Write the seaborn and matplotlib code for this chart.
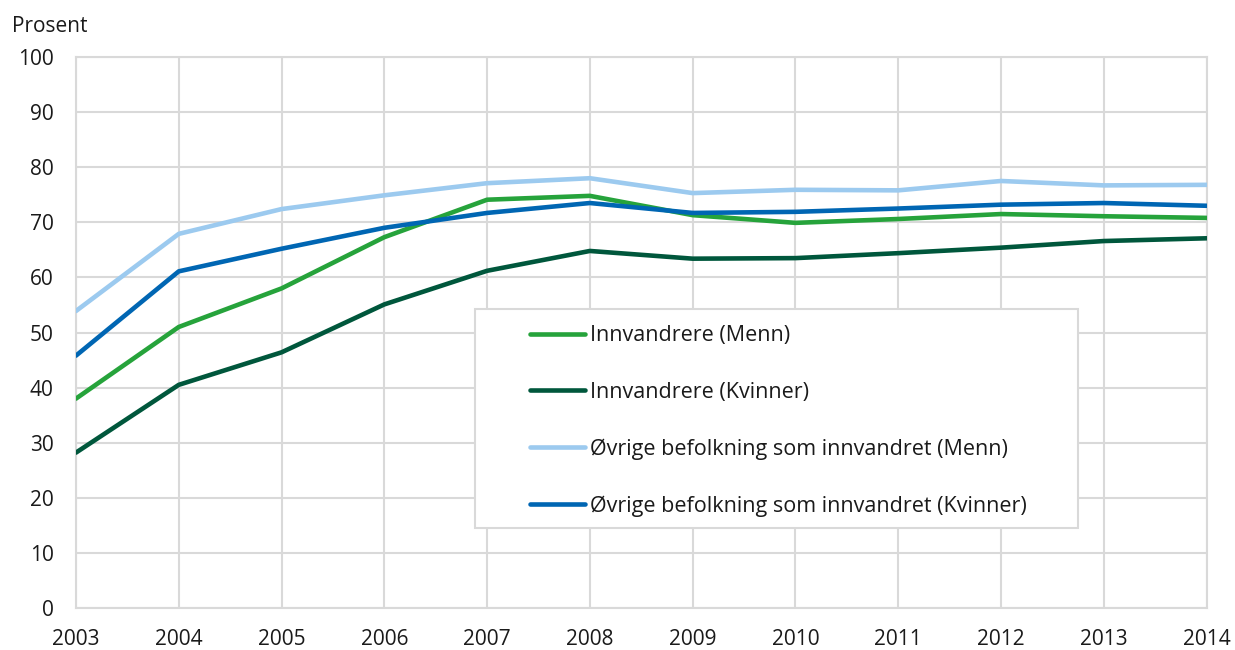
import matplotlib
matplotlib.use("Agg")
import matplotlib.pyplot as plt
from matplotlib.patches import Rectangle
import pandas as pd
import seaborn as sns

years = list(range(2003, 2015))
innv_menn = [38.0, 51.0, 58.0, 67.3, 74.1, 74.8, 71.3, 69.9, 70.6, 71.5, 71.1, 70.8]
innv_kvinner = [28.2, 40.5, 46.4, 55.1, 61.2, 64.8, 63.4, 63.5, 64.4, 65.4, 66.6, 67.1]
ovrige_menn = [53.9, 67.9, 72.4, 74.9, 77.1, 78.0, 75.3, 75.9, 75.8, 77.5, 76.7, 76.8]
ovrige_kvinner = [45.8, 61.1, 65.2, 69.0, 71.7, 73.5, 71.7, 71.9, 72.5, 73.2, 73.5, 73.0]

series_names = ["Innvandrere (Menn)", "Innvandrere (Kvinner)",
                "Øvrige befolkning som innvandret (Menn)",
                "Øvrige befolkning som innvandret (Kvinner)"]
colors = ["#26a33b", "#00573c", "#9ccaef", "#0066b3"]

frames = []
for name, vals in zip(series_names, [innv_menn, innv_kvinner, ovrige_menn, ovrige_kvinner]):
    frames.append(pd.DataFrame({"year": years, "value": vals, "serie": name}))
df = pd.concat(frames, ignore_index=True)

sns.set_theme(style="white")
plt.rcParams["font.family"] = ["Open Sans", "DejaVu Sans"]

fig = plt.figure(figsize=(12.35, 6.5), dpi=100)
ax = fig.add_axes([0.0615, 0.0646, 0.9155, 0.8477])

grid_col = "#d9d9d9"
sns.lineplot(data=df, x="year", y="value", hue="serie", hue_order=series_names,
             palette=colors, linewidth=3.3, ax=ax, legend=False, zorder=3)

ax.set_xlim(2003, 2014)
ax.set_ylim(0, 100)
ax.set_xticks(years)
ax.set_yticks(range(0, 101, 10))
ax.grid(True, color=grid_col, linewidth=1.5, zorder=0)
ax.set_axisbelow(True)
for s in ax.spines.values():
    s.set_color(grid_col)
    s.set_linewidth(1.5)
ax.tick_params(axis="both", length=0, labelsize=15, colors="#1a1a1a")
ax.tick_params(axis="x", pad=15)
ax.tick_params(axis="y", pad=16)
ax.set_xlabel("")
ax.set_ylabel("")

fig.text(12 / 1235, 1 - 27 / 650, "Prosent", ha="left", va="center",
         fontsize=15, color="#1a1a1a")

# legend frame and entries
ax.add_patch(Rectangle((0.353, 0.145), 0.533, 0.398, transform=ax.transAxes,
                       facecolor="white", edgecolor=grid_col, linewidth=1.5, zorder=4))
handles = [plt.Line2D([], [], color=c, linewidth=3.3) for c in colors]
leg = ax.legend(handles, series_names, loc="upper left",
                bbox_to_anchor=(0.402, 0.513), frameon=False, fontsize=15.5,
                handlelength=2.55, handletextpad=0.2, labelspacing=1.65,
                borderaxespad=0, borderpad=0)
leg.set_zorder(5)
for t in leg.get_texts():
    t.set_color("#1a1a1a")

fig.savefig("out.png", dpi=100)
